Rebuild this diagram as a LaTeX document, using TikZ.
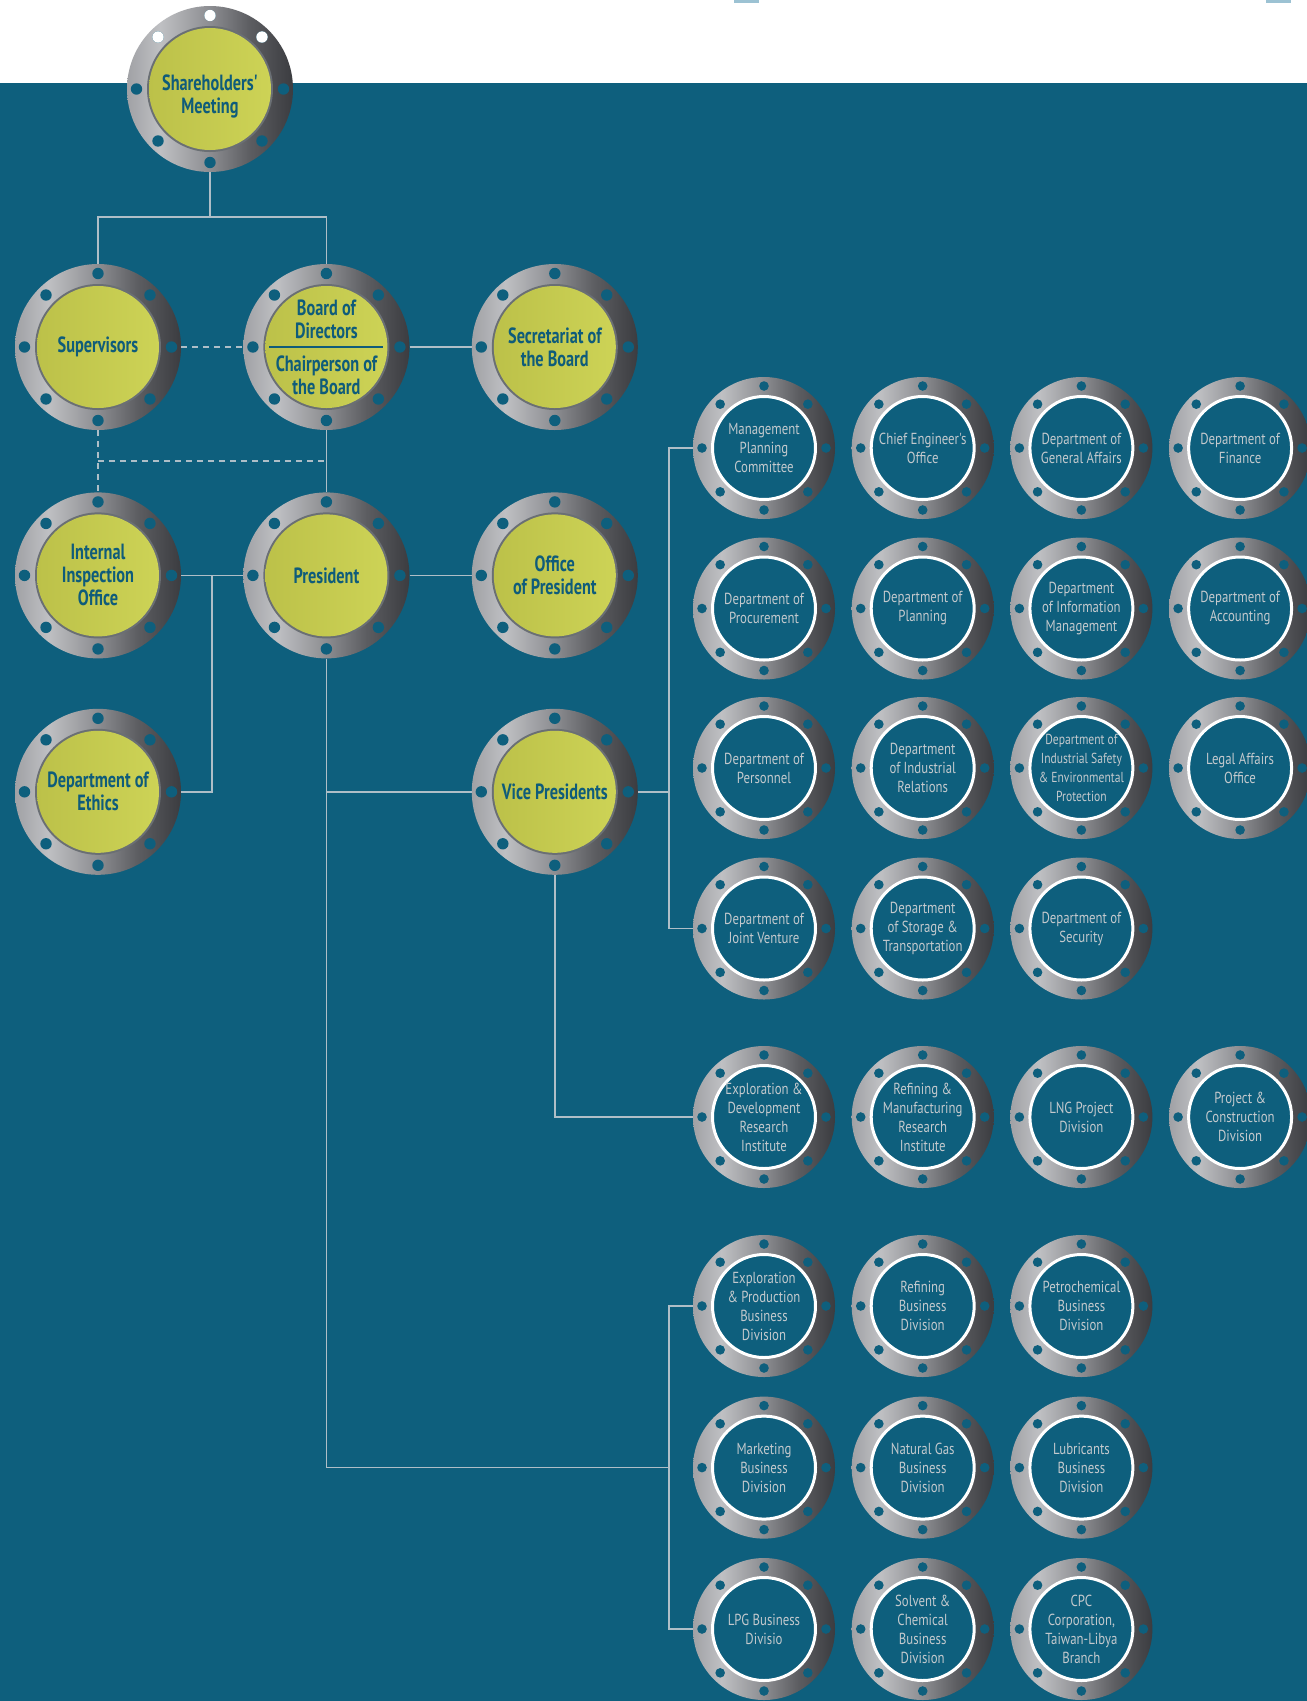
\documentclass[tikz,border=0pt]{standalone}
\usepackage{fontspec}
\setmainfont{PT Sans}
\newfontfamily\headfont{PT Sans}[FakeStretch=0.74]
\newfontfamily\subfont{PT Sans}[FakeStretch=0.80]
\usetikzlibrary{positioning, calc, backgrounds}
\definecolor{bgteal}{HTML}{0E5F7D}
\definecolor{ringA}{HTML}{A0A1A5}
\definecolor{ringB}{HTML}{BFC0C3}
\definecolor{ringC}{HTML}{8C8D91}
\definecolor{ringD}{HTML}{5C5D61}
\definecolor{ringE}{HTML}{3B3C40}
\definecolor{yelA}{HTML}{BCC149}
\definecolor{yelB}{HTML}{CDD356}
\definecolor{yeledge}{HTML}{6A6F74}
\definecolor{headtext}{HTML}{0F5C7A}
\definecolor{subtext}{HTML}{C3C9CD}
\definecolor{linkline}{HTML}{AFBEC7}
\definecolor{tabmark}{HTML}{9CC2D3}
\pgfdeclarehorizontalshading{flangeshade}{100bp}{color(0bp)=(ringA); color(25bp)=(ringA);
  color(35bp)=(ringB); color(50bp)=(ringC); color(62bp)=(ringD); color(75bp)=(ringE); color(100bp)=(ringE)}
\def\bigr{83pt}
\def\yelr{61pt}
\def\bigbolt{73.5pt}
\def\bigdot{5.7pt}
\def\subr{71pt}
\def\subring{51.5pt}
\def\subbolt{62pt}
\def\subdot{4.8pt}
\def\colgap{62pt}
\def\rowgap{62pt}
\def\vpgap{50pt}
\def\stub{24}
\def\gridx{764}
\def\gridstep{158.7}
\tikzset{
  headlabel/.style={text=headtext, align=center, inner sep=0pt,
                    font=\headfont\bfseries\fontsize{22}{23}\selectfont},
  flange/.style={circle, inner sep=0pt, shading=flangeshade, align=center},
  bignode/.style={flange, headlabel, minimum size=2*\bigr,
                  path picture={
                    \fill[yeledge] (path picture bounding box.center) circle (\yelr+2pt);
                    \shade[left color=yelA, right color=yelB]
                      (path picture bounding box.center) circle (\yelr);
                    \foreach \a in {0,45,...,315}
                      \fill[bgteal] (path picture bounding box.center) ++(\a:\bigbolt) circle (\bigdot);
                  }},
  subnode/.style={flange, minimum size=2*\subr, text=subtext,
                  font=\subfont\fontsize{16}{19}\selectfont,
                  path picture={
                    \filldraw[fill=bgteal, draw=white, line width=3pt]
                      (path picture bounding box.center) circle (\subring);
                    \foreach \a in {0,45,...,315}
                      \fill[bgteal] (path picture bounding box.center) ++(\a:\subbolt) circle (\subdot);
                  }},
  link/.style={draw=linkline, line width=1.6pt},
  dashlink/.style={link, dash pattern=on 6pt off 5pt},
}

\begin{document}
\begin{tikzpicture}[x=1pt, y=-1pt]
\clip (0,0) rectangle (1307,1701);

% Governance
\node[bignode] (share) at (210,89) {};
\node[headlabel] (sharetext) at ($(share.center)+(0,7)$) {Shareholders'\\Meeting};
\node[bignode] (sup) at (98,347) {Supervisors};
\node[bignode, right=\colgap of sup] (board) {Board of\\Directors\\[10pt]Chairperson of\\the Board};
\node[bignode, right=\colgap of board] (secr) {Secretariat of\\the Board};

% Executive
\node[bignode, below=\rowgap of sup] (iio) {Internal\\Inspection\\Office};
\node[bignode, right=\colgap of iio] (pres) {President};
\node[bignode, right=\colgap of pres] (opres) {Office\\of President};
\node[bignode, below=\vpgap of iio] (ethics) {Department of\\Ethics};
\node[bignode, below=\vpgap of opres] (vp) {Vice Presidents};

\draw[headtext, line width=1.5pt] ($(board.center)+(-57,0)$) -- ($(board.center)+(57,0)$);
\foreach \a in {45,90,135}
  \fill[white] (share.center) ++(\a:\bigbolt) circle (\bigdot);

% Departments, institutes and divisions
\foreach \n/\c/\py/\t in {
  mpc/0/448/{Management\\Planning\\Committee},
  ceo/1/448/{Chief Engineer's\\Office},
  dga/2/448/{Department of\\General Affairs},
  dfin/3/448/{Department of\\Finance},
  dproc/0/608.5/{Department of\\Procurement},
  dplan/1/608.5/{Department of\\Planning},
  dim/2/608.5/{Department\\of Information\\Management},
  dacc/3/608.5/{Department of\\Accounting},
  dpers/0/768/{Department of\\Personnel},
  dir/1/768/{Department\\of Industrial\\Relations},
  lao/3/768/{Legal Affairs\\Office},
  djv/0/928.5/{Department of\\Joint Venture},
  dst/1/928.5/{Department\\of Storage \&\\Transportation},
  dsec/2/928.5/{Department of\\Security},
  edri/0/1117/{Exploration \&\\Development\\Research\\Institute},
  rmri/1/1117/{Refining \&\\Manufacturing\\Research\\Institute},
  lng/2/1117/{LNG Project\\Division},
  pcd/3/1117/{Project \&\\Construction\\Division},
  epbd/0/1306/{Exploration\\\& Production\\Business\\Division},
  rbd/1/1306/{Refining\\Business\\Division},
  pbd/2/1306/{Petrochemical\\Business\\Division},
  mbd/0/1467.6/{Marketing\\Business\\Division},
  ngbd/1/1467.6/{Natural Gas\\Business\\Division},
  lbd/2/1467.6/{Lubricants\\Business\\Division},
  lpg/0/1629/{LPG Business\\Divisio},
  scbd/1/1629/{Solvent \&\\Chemical\\Business\\Division},
  tlb/2/1629/{CPC\\Corporation,\\Taiwan-Libya\\Branch}} {
  \node[subnode] (\n) at ({\gridx+\c*\gridstep}, \py) {\t};
}
\node[subnode, font=\subfont\fontsize{14.5}{19}\selectfont] (dise) at ({\gridx+2*\gridstep}, 768)
  {Department of\\Industrial Safety\\\& Environmental\\Protection};

% Links
\draw[link] (share.south) -- ++(0,45) coordinate (split);
\draw[link] (sup.north) |- (split) -| (board.north);
\draw[dashlink] (sup.east) -- (board.west);
\draw[link] (board.east) -- (secr.west);
\draw[link] (board.south) -- (pres.north);
\draw[dashlink] (sup.south) -- (iio.north);
\draw[dashlink] ($(sup.south)!0.5!(iio.north)$) -- ($(board.south)!0.5!(pres.north)$);
\draw[link] (iio.east) -- (pres.west);
\draw[link] ($(iio.east)!0.5!(pres.west)$) |- (ethics.east);
\draw[link] (pres.east) -- (opres.west);
\draw[link] (pres.south) |- (vp.west);
\draw[link] (mpc.west) -- ++(-\stub,0) coordinate (bus) |- (djv.west);
\draw[link] (vp.east) -- (vp.east -| bus);
\draw[link] (vp.south) |- (edri.west);
\draw[link] (epbd.west) -- ++(-\stub,0) |- (lpg.west);
\draw[link] (pres.south) |- (mbd.west -| bus);

% Page band
\begin{scope}[on background layer]
  \fill[white] (0,0) rectangle (1307,83);
  \fill[bgteal] (0,83) rectangle (1307,1701);
  \fill[tabmark] (734,0) rectangle (759,2.5);
  \fill[tabmark] (1266,0) rectangle (1291,2.5);
\end{scope}

\end{tikzpicture}
\end{document}
